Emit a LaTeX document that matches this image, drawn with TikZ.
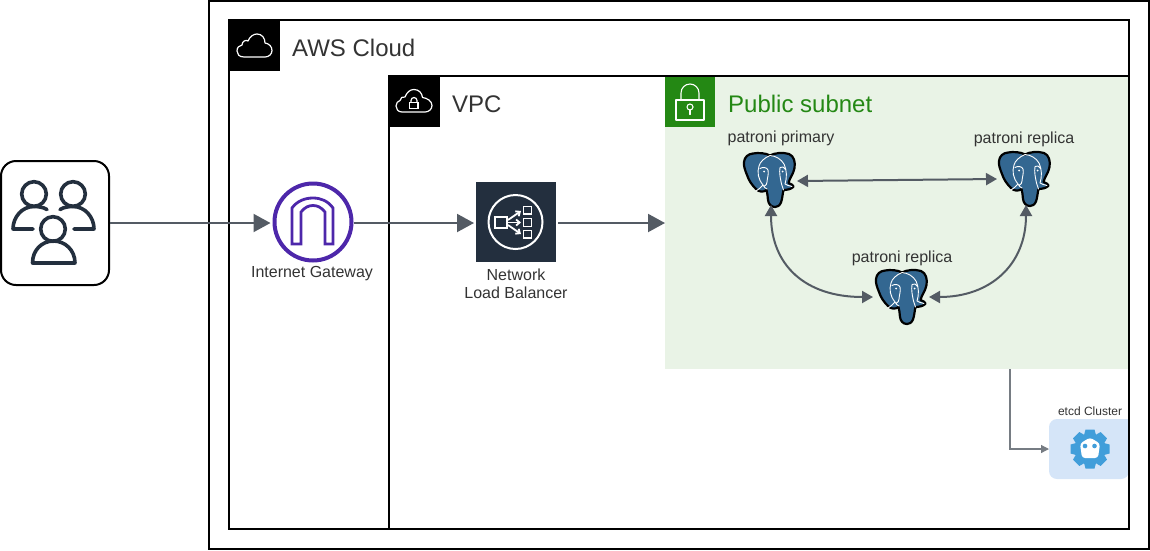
\documentclass[tikz,border=0pt]{standalone}
\usepackage{fontspec}
\setmainfont{Liberation Sans}
\usetikzlibrary{arrows.meta,calc}
\definecolor{awsink}{HTML}{232F3E}
\definecolor{conn}{HTML}{545B64}
\definecolor{subfill}{HTML}{E9F3E6}
\definecolor{subgreen}{HTML}{248814}
\definecolor{igpurple}{HTML}{4D27AA}
\definecolor{pgblue}{HTML}{336791}
\definecolor{etcdfill}{HTML}{D5E5F8}
\definecolor{etcdblue}{HTML}{419EDA}
\definecolor{labelgray}{HTML}{333333}
\newcommand{\fs}[1]{\fontsize{#1}{#1}\selectfont}
\tikzset{
  frameline/.style={draw=black,line width=2pt},
  iconline/.style={draw=white,line width=1.3pt,line join=round,line cap=round},
  lbl/.style={text=labelgray,font=\fs{16},inner sep=0pt,align=center},
  biglbl/.style={text=labelgray,font=\fs{24},inner sep=0pt,anchor=west},
  bigarrow/.style={draw=conn,line width=2pt,-{Triangle[length=17pt,width=18pt]}},
  curvearrow/.style={draw=conn,line width=2pt,{Triangle[length=11pt,width=12pt]}-{Triangle[length=11pt,width=12pt]}},
  thinarrow/.style={draw=conn!80,line width=1.2pt,-{Triangle[length=8pt,width=8pt]}},
  elbox/.style={minimum width=52pt,minimum height=54pt,inner sep=0pt,outer sep=0pt},
  pgel/.pic={
    \path[fill=pgblue,draw=black,line width=2.2pt,line join=round]
      (10,0.5) .. controls (15,-0.5) and (23,0) .. (27,2.5)
      .. controls (31,0) and (40,-1) .. (46,1)
      .. controls (51,3) and (52.5,9) .. (51.5,15)
      .. controls (50.5,21) and (46.5,25) .. (45.5,30)
      .. controls (48,31.5) and (51,32) .. (50.5,33.5)
      .. controls (49,36) and (44,37) .. (40.5,37)
      .. controls (39.5,41) and (39.5,45) .. (38,49.5)
      .. controls (36.5,53) and (34,54) .. (32,54)
      .. controls (28,54) and (25.5,51) .. (25,47)
      .. controls (24.5,43) and (24.5,40) .. (23.5,37)
      .. controls (20,39.5) and (16,39) .. (13,36)
      .. controls (9,32) and (6,28) .. (4,22)
      .. controls (2,17) and (0.5,13) .. (1,9)
      .. controls (1.5,4) and (5,1) .. (10,0.5) -- cycle;
    \path[draw=white,line width=0.9pt,line cap=round,line join=round]
      (27,2.5) .. controls (21,5) and (17,9) .. (16,13)
      .. controls (14,19) and (15,26) .. (20,32)
      .. controls (18,34.5) and (16,36) .. (13,38)
      (20,32) .. controls (21,34) and (22,35) .. (24,36)
      (17,15.5) .. controls (20,13.5) and (24,14.5) .. (25,17)
      .. controls (26,21) and (24,26) .. (24,29)
      .. controls (24,31) and (23,32.5) .. (21.5,33)
      (27,2.5) .. controls (33,3) and (38,6) .. (41,11)
      .. controls (44,17) and (44,25) .. (42,31)
      .. controls (44,32) and (46,33) .. (49,33.5)
      (37,14.5) .. controls (39,13) and (41,14) .. (42.5,16.5)
      (37,14.5) .. controls (36,20) and (37.5,26) .. (38.5,31)
      .. controls (39,33) and (40,35) .. (40.5,37);
    \fill[white] (21,18.5) circle (1pt) (39.5,18.5) circle (1pt);
  },
}
\begin{document}
\begin{tikzpicture}[x=1pt,y=-1pt]
\useasboundingbox (0,0) rectangle (1150,550);
% fills
\node[minimum width=464pt,minimum height=293pt,inner sep=0pt,outer sep=0pt,fill=subfill] (subnet) at (897,222.5) {};
\fill[etcdfill,rounded corners=8pt] (1129,419) -- (1049,419) -- (1049,479) -- (1129,479) [sharp corners] -- cycle;
\node[minimum width=80pt,minimum height=60pt,inner sep=0pt,outer sep=0pt] (etcd) at (1089,449) {};
% frames
\node[frameline,minimum width=940pt,minimum height=548pt,inner sep=0pt,outer sep=0pt] (outer) at (679,275) {};
\node[frameline,minimum width=900pt,minimum height=509pt,inner sep=0pt,outer sep=0pt] (cloud) at (679,274.5) {};
\node[frameline,minimum width=740pt,minimum height=453pt,inner sep=0pt,outer sep=0pt] (vpc) at (759,302.5) {};
% header squares
\node[fill=black,minimum size=51pt,inner sep=0pt] (cloudhead) at (254,45) {};
\node[fill=black,minimum size=51pt,inner sep=0pt] (vpchead) at (414,101) {};
\node[fill=subgreen,minimum size=50pt,inner sep=0pt] (subhead) at (690,102) {};
% cloud icon
\path[iconline,line width=1.2pt]
  (244,57) .. controls (239,57) and (237,54) .. (237,51)
  .. controls (237,47.5) and (239,45.5) .. (242,45)
  .. controls (242,41) and (246,39.5) .. (248,41)
  .. controls (250,36) and (254,34) .. (257,34)
  .. controls (262,34) and (265,38) .. (265,43)
  .. controls (269,43.5) and (272,46.5) .. (272,50.5)
  .. controls (272,54) and (269,57) .. (265,57) -- cycle;
% vpc icon
\path[iconline,line width=1.2pt]
  (402,112) .. controls (398,112) and (396,109) .. (396,106)
  .. controls (396,103) and (398,101) .. (400,100.5)
  .. controls (400,98) and (403,96) .. (405,97)
  .. controls (407,92) and (410,89.5) .. (414,89.5)
  .. controls (419,89.5) and (422,93) .. (422.5,97.5)
  .. controls (427,98) and (432,101) .. (432,105.5)
  .. controls (432,109) and (429,112) .. (425,112) -- cycle;
\draw[white,line width=1.2pt] (409.5,102.5) rectangle (418,108.5);
\draw[white,line width=1.2pt] (411,102.5) -- (411,100.5) arc[start angle=180,end angle=0,radius=3pt] -- (417,102.5);
% subnet lock icon
\draw[iconline,line width=1.1pt] (676,100) rectangle (704,120);
\draw[iconline,line width=1.1pt] (681,100) -- (681,93) arc[start angle=180,end angle=360,x radius=9pt,y radius=-9pt] -- (699,100);
\draw[iconline,line width=1.1pt] (690,107) circle (3pt);
\draw[iconline,line width=1.1pt] (690,110) -- (690,114.5);
% header labels
\node[biglbl] (cloudlabel) at (292,48) {AWS Cloud};
\node[biglbl] (vpclabel) at (452,104) {VPC};
\node[biglbl,text=subgreen] (sublabel) at (728,104) {Public subnet};
% users
\node[draw=black,line width=2pt,rounded corners=15pt,minimum width=108pt,minimum height=124pt,inner sep=0pt,outer sep=1pt,fill=white] (users) at (55,223) {};
\begin{scope}[draw=awsink,line width=3.6pt,line join=round]
\draw[awsink] (34,194) circle (12.3pt);
\draw[awsink] (73,194) circle (12.3pt);
\draw[awsink,line cap=round] (47,209.5) .. controls (43,207) and (38,206.5) .. (34,206.5)
 .. controls (22,206.5) and (13,217) .. (13,229) -- (33,229);
\draw[awsink,line cap=round] (60,209.5) .. controls (64,207) and (69,206.5) .. (73,206.5)
 .. controls (85,206.5) and (94,217) .. (94,229) -- (74,229);
\draw[awsink,fill=white] (53,229) circle (12.3pt);
\draw[awsink] (32.5,263) .. controls (32.5,250) and (42,241) .. (53.5,241)
 .. controls (65,241) and (75,250) .. (75,263) -- cycle;
\end{scope}
% internet gateway
\node[draw=igpurple,line width=4pt,circle,minimum size=77pt,inner sep=0pt,outer sep=2pt,fill=white] (igw) at (313,222) {};
\draw[igpurple,line width=2.8pt,line join=miter]
  (292,244) -- (292,208) .. controls (297,201) and (305,198) .. (313,198)
  .. controls (321,198) and (328,201) .. (333,208) -- (333,244) -- (325,244)
  -- (325,212) .. controls (321,207) and (317,205.5) .. (313,205.5)
  .. controls (309,205.5) and (305,207) .. (301,212) -- (301,244) -- cycle;
\node[lbl] (igwlabel) at (312,274) {Internet Gateway};
% nlb
\node[fill=awsink,minimum size=80pt,inner sep=0pt,outer sep=2pt] (nlb) at (516,222) {};
\draw[white,line width=2pt] (515.5,222) circle (27pt);
\draw[white,line width=1.8pt] (495,217) rectangle (507,228);
\draw[white,line width=1.8pt] (523.5,206.5) rectangle (531.5,214) (523.5,218.5) rectangle (531.5,226.5) (523.5,230.5) rectangle (531.5,238);
\draw[white,line width=1.8pt,-{Straight Barb[length=3.5pt,width=6pt]}] (508,220) -- (521,211);
\draw[white,line width=1.8pt,-{Straight Barb[length=3.5pt,width=6pt]}] (508,222.5) -- (521,222.5);
\draw[white,line width=1.8pt,-{Straight Barb[length=3.5pt,width=6pt]}] (508,225) -- (521,234);
\node[lbl] (nlblabel) at (516,284) {Network\\[2pt]Load Balancer};
% elephants
\node[elbox] (pg1) at (769,180) {};
\pic at (pg1.north west) {pgel};
\node[elbox] (pg2) at (1024,179) {};
\pic at (pg2.north west) {pgel};
\node[elbox] (pg3) at (901,297) {};
\pic at (pg3.north west) {pgel};
\node[lbl] (pg1label) at (781,138) {patroni primary};
\node[lbl] (pg2label) at (1024,139) {patroni replica};
\node[lbl] (pg3label) at (902,258) {patroni replica};
% etcd icon
\fill[etcdblue] (1090,449) circle (15pt);
\foreach \a in {0,45,...,315}{
  \fill[etcdblue,rotate around={\a:(1090,449)}] (1085.5,429.5) -- (1094.5,429.5) -- (1096.5,437) -- (1083.5,437) -- cycle;
}
\fill[white,rounded corners=3pt] (1090,437.5) -- (1100,443.5) -- (1098,458) -- (1082,458) -- (1080,443.5) -- cycle;
\fill[etcdblue] (1085,446) circle (2.3pt) (1094.5,446) circle (2.3pt);
\node[inner sep=0pt,text=labelgray,font=\fs{12}] (etcdlabel) at (1090,411.5) {etcd Cluster};
% connectors
\coordinate (etcdturn) at (1010,449);
\draw[bigarrow,shorten >=2pt] (users.east) -- (igw.west |- users.east);
\draw[bigarrow] (igw.east |- users.east) -- (nlb.west |- users.east);
\draw[bigarrow] (nlb.east |- users.east) -- (subnet.west |- users.east);
\draw[curvearrow] ([xshift=2pt,yshift=-1pt]pg1.east) -- ([xshift=-1pt]pg2.west);
\draw[curvearrow] ([xshift=2pt,yshift=2pt]pg1.south) .. controls (771,265) and (805,297) .. ([xshift=-2pt]pg3.west);
\draw[curvearrow] ([xshift=2pt,yshift=1pt]pg2.south) .. controls (1026,265) and (990,297) .. ([xshift=2pt]pg3.east);
\draw[thinarrow] (etcdturn |- subnet.south) -- (etcdturn) -- (etcd.west);
\end{tikzpicture}
\end{document}
